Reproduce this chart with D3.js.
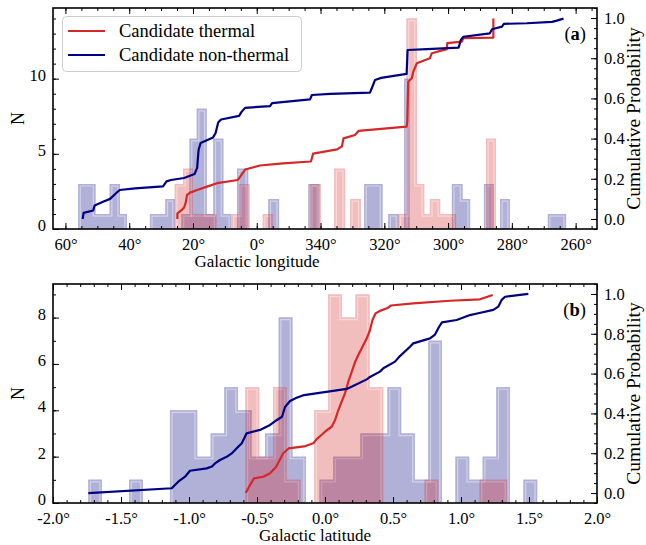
<!DOCTYPE html>
<html>
<head>
<meta charset="utf-8">
<script src="https://cdn.jsdelivr.net/npm/d3@7"></script>
<style>
  body { margin: 0; background: #fff; }
  svg text { font-family: "Liberation Serif", "Times New Roman", serif; fill: #000; }
</style>
</head>
<body>
<svg id="chart" width="646" height="545"></svg>
<script>
// ---------- Galactic longitude (deg, values > 180 stored as l - 360) ----------
const lonNonThermalEdges = [56.0, 50.6, 46.1, 42.9, 40.7, 33.5, 28.65, 25.7, 23.6, 21.05, 18.8, 15.7, 13.6, 10.5, 8.05, 6.2, 2.7, -3.65, -7.0, -16.2, -19.6, -33.7, -39.4, -41.25, -44.4, -46.2, -47.9, -61.2, -64.5, -66.9, -71.25, -74.4, -76.3, -79.4, -91.3, -97.0];
const lonNonThermalCounts = [3, 1, 3, 1, 0, 1, 2, 0, 1, 6, 8, 1, 6, 1, 0, 4, 0, 2, 0, 3, 0, 3, 0, 1, 0, 10, 0, 3, 2, 0, 3, 0, 2, 0, 1];
const lonThermalEdges = [25.7, 23.1, 20.0, 12.65, 7.9, 5.6, 2.25, -1.9, -5.0, -16.7, -20.05, -24.3, -27.7, -29.25, -32.6, -44.4, -47.0, -50.2, -52.5, -54.3, -57.5, -62.5, -71.9, -75.0];
const lonThermalCounts = [3, 4, 1, 0, 1, 3, 0, 1, 0, 3, 0, 4, 0, 2, 0, 1, 14, 3, 1, 2, 1, 0, 6];

// cumulative probability curves: [longitude, fraction]
const lonNonThermalCum = [[54.6,0.0],[54.3,0.03],[51.3,0.042],[50.85,0.067],[48.2,0.086],[46.0,0.10],[44.4,0.124],[43.0,0.144],[38.15,0.152],[29.4,0.162],[28.3,0.187],[26.9,0.194],[22.8,0.204],[19.5,0.224],[18.7,0.254],[18.25,0.343],[17.6,0.378],[13.7,0.406],[12.9,0.428],[12.1,0.48],[11.2,0.495],[5.55,0.513],[4.77,0.533],[3.67,0.553],[-4.17,0.562],[-4.8,0.577],[-16.7,0.595],[-17.3,0.617],[-23.0,0.623],[-35.5,0.629],[-36.1,0.652],[-37.1,0.692],[-39.0,0.702],[-47.0,0.722],[-47.3,0.841],[-53.4,0.845],[-63.3,0.853],[-64.0,0.891],[-64.8,0.907],[-73.1,0.924],[-73.8,0.944],[-76.9,0.957],[-77.5,0.971],[-84.7,0.974],[-92.6,0.981],[-94.1,0.987],[-96.2,0.997]];
const lonThermalCum = [[24.9,0.0],[24.9,0.028],[23.5,0.045],[22.8,0.057],[22.3,0.08],[21.85,0.12],[20.9,0.131],[18.7,0.144],[15.6,0.161],[12.45,0.178],[5.9,0.194],[4.8,0.219],[3.67,0.246],[-1.0,0.266],[-8.2,0.277],[-17.0,0.286],[-17.65,0.325],[-25.2,0.346],[-26.7,0.361],[-27.2,0.401],[-30.8,0.418],[-31.9,0.438],[-47.0,0.460],[-47.2,0.488],[-47.5,0.683],[-48.6,0.70],[-49.1,0.733],[-50.2,0.775],[-54.3,0.80],[-54.9,0.825],[-59.6,0.845],[-59.75,0.875],[-64.3,0.883],[-64.8,0.90],[-74.2,0.903],[-74.2,0.998]];

// ---------- Galactic latitude (deg) ----------
const latNonThermalEdges = [-1.74, -1.64, -1.54, -1.44, -1.34, -1.24, -1.14, -1.04, -0.94, -0.84, -0.74, -0.64, -0.54, -0.44, -0.34, -0.24, -0.14, -0.04, 0.06, 0.16, 0.26, 0.36, 0.46, 0.56, 0.66, 0.76, 0.86, 0.96, 1.06, 1.16, 1.26, 1.36, 1.46, 1.56];
const latNonThermalCounts = [1, 0, 0, 1, 0, 0, 4, 4, 2, 3, 5, 4, 2, 3, 8, 2, 0, 1, 2, 2, 3, 3, 5, 3, 1, 7, 0, 2, 1, 2, 5, 0, 1];
const latThermalEdges = [-0.585, -0.484, -0.382, -0.281, -0.180, -0.079, 0.023, 0.124, 0.225, 0.327, 0.428, 0.529, 0.631, 0.732, 0.833, 0.935, 1.036, 1.137, 1.239, 1.340];
const latThermalCounts = [5, 2, 5, 1, 0, 4, 9, 8, 9, 5, 0, 0, 0, 1, 0, 0, 0, 1, 1];

const latNonThermalCum = [[-1.740,0.0],[-1.127,0.024],[-1.079,0.057],[-1.029,0.082],[-0.993,0.112],[-0.870,0.124],[-0.831,0.133],[-0.809,0.149],[-0.772,0.166],[-0.723,0.182],[-0.686,0.199],[-0.649,0.225],[-0.612,0.25],[-0.576,0.30],[-0.478,0.317],[-0.404,0.342],[-0.353,0.367],[-0.316,0.383],[-0.294,0.432],[-0.257,0.462],[-0.213,0.477],[-0.154,0.492],[0.160,0.523],[0.199,0.535],[0.307,0.571],[0.331,0.583],[0.404,0.61],[0.429,0.627],[0.515,0.66],[0.551,0.688],[0.625,0.735],[0.649,0.752],[0.772,0.777],[0.809,0.796],[0.838,0.834],[0.860,0.857],[0.968,0.869],[1.066,0.894],[1.127,0.903],[1.238,0.92],[1.274,0.936],[1.299,0.97],[1.324,0.986],[1.495,1.0]];
const latThermalCum = [[-0.583,0.0],[-0.551,0.040],[-0.522,0.074],[-0.454,0.082],[-0.404,0.099],[-0.360,0.131],[-0.307,0.2],[-0.268,0.224],[-0.154,0.234],[-0.086,0.25],[-0.061,0.271],[-0.022,0.294],[0.007,0.312],[0.049,0.333],[0.074,0.367],[0.098,0.417],[0.118,0.452],[0.147,0.501],[0.171,0.558],[0.196,0.608],[0.221,0.658],[0.245,0.693],[0.270,0.727],[0.307,0.777],[0.331,0.819],[0.349,0.869],[0.371,0.902],[0.404,0.915],[0.456,0.928],[0.485,0.942],[0.649,0.953],[0.919,0.966],[1.140,0.973],[1.233,0.995]];

// ---------- tick labels ----------
const lonTicks = [60, 40, 20, 0, -20, -40, -60, -80, -100];
const lonTickLabels = ["60°", "40°", "20°", "0°", "340°", "320°", "300°", "280°", "260°"];
const latTicks = [-2, -1.5, -1, -0.5, 0, 0.5, 1, 1.5, 2];
const latTickLabels = ["-2.0°", "-1.5°", "-1.0°", "-0.5°", "0.0°", "0.5°", "1.0°", "1.5°", "2.0°"];
const seriesNames = ["Candidate thermal", "Candidate non-thermal"];

const RED = "#d62728", NAVY = "#000080";
const RED_LIGHT = "#e68080", NAVY_LIGHT = "#6a6ab8";

const svg = d3.select("#chart");
const defs = svg.append("defs");
let clipId = 0;

function histRuns(edges, counts) {
  const runs = [];
  let cur = null;
  counts.forEach((n, i) => {
    if (n > 0) {
      if (!cur) { cur = []; runs.push(cur); }
      cur.push([edges[i], edges[i + 1], n]);
    } else cur = null;
  });
  return runs;
}

// closed outline for the fill, open outline (no baseline) for the edge strokes
function histPaths(edges, counts, x, y) {
  const closed = d3.path(), open = d3.path();
  histRuns(edges, counts).forEach(run => {
    [closed, open].forEach(p => {
      p.moveTo(x(run[0][0]), y(0));
      run.forEach(([a, b, n]) => { p.lineTo(x(a), y(n)); p.lineTo(x(b), y(n)); });
      p.lineTo(x(run[run.length - 1][1]), y(0));
    });
    closed.closePath();
  });
  return [closed.toString(), open.toString()];
}

function drawHist(g, edges, counts, x, y, color, light) {
  const [closed, open] = histPaths(edges, counts, x, y);
  const id = "hclip" + (clipId++);
  defs.append("clipPath").attr("id", id).append("path").attr("d", closed);
  const h = g.append("g").attr("opacity", 0.3);
  h.append("path").attr("d", closed).attr("fill", color);
  h.append("path").attr("d", open).attr("fill", "none").attr("stroke", light)
    .attr("stroke-width", 5.4).attr("clip-path", `url(#${id})`);
  h.append("path").attr("d", open).attr("fill", "none").attr("stroke", color)
    .attr("stroke-width", 3).attr("clip-path", `url(#${id})`);
}

function drawPanel(o) {
  const g = svg.append("g");
  const x = d3.scaleLinear().domain(o.xDomain).range([o.left, o.right]);
  const yN = d3.scaleLinear().domain(o.nDomain).range([o.bottom, o.top]);
  const yP = d3.scaleLinear().domain([-0.05, 1.05]).range([o.bottom, o.top]);

  drawHist(g, o.ntEdges, o.ntCounts, x, yN, NAVY, NAVY_LIGHT);
  drawHist(g, o.thEdges, o.thCounts, x, yN, RED, RED_LIGHT);

  const line = d3.line().x(d => x(d[0])).y(d => yP(d[1]));
  g.append("path").datum(o.thCum).attr("d", line).attr("fill", "none")
    .attr("stroke", RED).attr("stroke-width", 2.2).attr("stroke-linejoin", "round");
  g.append("path").datum(o.ntCum).attr("d", line).attr("fill", "none")
    .attr("stroke", NAVY).attr("stroke-width", 2.2).attr("stroke-linejoin", "round");

  // axes with inward ticks on all four sides
  const fs = 16.5;
  const ax = (gen, tx, ty) => {
    const a = g.append("g").attr("transform", `translate(${tx},${ty})`).call(gen);
    a.select(".domain").remove();
    a.selectAll("line").attr("stroke", "#000").attr("stroke-width", 1);
    a.selectAll("text").attr("font-size", fs).attr("font-family", null);
    return a;
  };
  const fmtX = d => o.xLabels[o.xTicks.indexOf(d)];
  ax(d3.axisBottom(x).tickValues(o.xTicks).tickSize(-6).tickPadding(9).tickFormat(fmtX), 0, o.bottom);
  ax(d3.axisBottom(x).tickValues(o.xMinor).tickSize(-3).tickFormat(""), 0, o.bottom);
  ax(d3.axisTop(x).tickValues(o.xTicks).tickSize(-6).tickFormat(""), 0, o.top);
  ax(d3.axisTop(x).tickValues(o.xMinor).tickSize(-3).tickFormat(""), 0, o.top);
  ax(d3.axisLeft(yN).tickValues(o.nTicks).tickSize(-6).tickPadding(7).tickFormat(d3.format("d")), o.left, 0)
    .selectAll("text").attr("dy", "0.1em");
  ax(d3.axisLeft(yN).tickValues(o.nMinor).tickSize(-3).tickFormat(""), o.left, 0);
  ax(d3.axisRight(yP).tickValues([0, 0.2, 0.4, 0.6, 0.8, 1.0]).tickSize(-6).tickPadding(7).tickFormat(d3.format(".1f")), o.right, 0);
  ax(d3.axisRight(yP).tickValues(d3.range(-1, 22).map(i => i * 0.05)).tickSize(-3).tickFormat(""), o.right, 0);

  g.append("rect").attr("x", o.left).attr("y", o.top)
    .attr("width", o.right - o.left).attr("height", o.bottom - o.top)
    .attr("fill", "none").attr("stroke", "#000").attr("stroke-width", 1.6);

  g.append("text").attr("x", o.xLabelX).attr("y", o.bottom + 38)
    .attr("text-anchor", "middle").attr("font-size", 17).text(o.xTitle);
  g.append("text").attr("transform", `translate(18,${(o.top + o.bottom) / 2}) rotate(-90)`)
    .attr("text-anchor", "middle").attr("dominant-baseline", "central").attr("font-size", 18).text("N");
  g.append("text").attr("transform", `translate(633,${(o.top + o.bottom) / 2}) rotate(-90)`)
    .attr("text-anchor", "middle").attr("dominant-baseline", "central").attr("font-size", 19.5).text("Cumulative Probability");

  const tag = g.append("text").attr("x", o.right - 11).attr("y", o.top + 32)
    .attr("text-anchor", "end").attr("font-size", 18.5);
  tag.append("tspan").text("(");
  tag.append("tspan").attr("font-weight", "bold").text(o.tag);
  tag.append("tspan").text(")");
}

drawPanel({
  left: 53, right: 597, top: 8, bottom: 229,
  xDomain: [63.9, -106.7], nDomain: [0, 14.7],
  xTicks: lonTicks, xLabels: lonTickLabels, xMinor: d3.range(60, -106, -5),
  nTicks: [0, 5, 10], nMinor: d3.range(0, 15, 1),
  ntEdges: lonNonThermalEdges, ntCounts: lonNonThermalCounts,
  thEdges: lonThermalEdges, thCounts: lonThermalCounts,
  ntCum: lonNonThermalCum, thCum: lonThermalCum,
  xTitle: "Galactic longitude", xLabelX: 257, tag: "a"
});

drawPanel({
  left: 53, right: 597, top: 284, bottom: 503,
  xDomain: [-2, 2], nDomain: [0, 9.45],
  xTicks: latTicks, xLabels: latTickLabels, xMinor: d3.range(-20, 21).map(i => i / 10),
  nTicks: [0, 2, 4, 6, 8], nMinor: d3.range(0, 10, 1),
  ntEdges: latNonThermalEdges, ntCounts: latNonThermalCounts,
  thEdges: latThermalEdges, thCounts: latThermalCounts,
  ntCum: latNonThermalCum, thCum: latThermalCum,
  xTitle: "Galactic latitude", xLabelX: 315, tag: "b"
});

// legend
const lg = svg.append("g");
lg.append("rect").attr("x", 62.5).attr("y", 16.5).attr("width", 239).attr("height", 55)
  .attr("rx", 4).attr("fill", "#fff").attr("fill-opacity", 0.8)
  .attr("stroke", "#cccccc").attr("stroke-width", 1);
[RED, NAVY].forEach((c, i) => {
  const yy = 31 + i * 24;
  lg.append("line").attr("x1", 68).attr("x2", 105).attr("y1", yy).attr("y2", yy)
    .attr("stroke", c).attr("stroke-width", 2.2);
  lg.append("text").attr("x", 119).attr("y", yy + 6.3).attr("font-size", 18.5).text(seriesNames[i]);
});
</script>
</body>
</html>
